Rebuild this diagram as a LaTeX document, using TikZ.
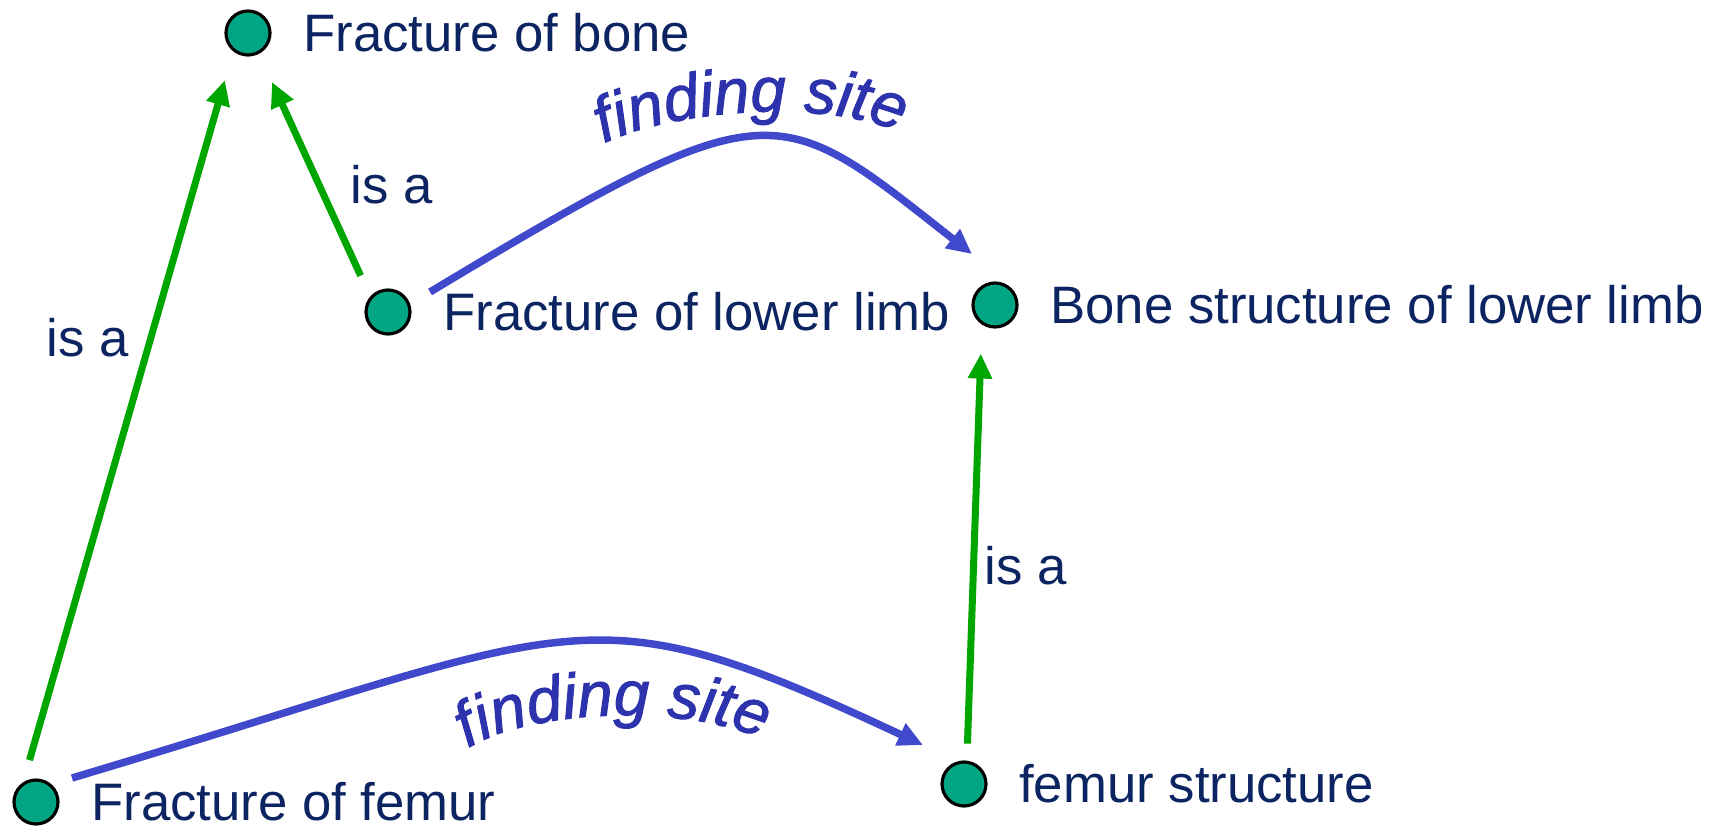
\documentclass[tikz,border=0pt]{standalone}
\usepackage{fontspec}
\setmainfont{Liberation Sans}
\newfontface\sitefontface{Liberation Sans Italic}[FakeBold=1.6]
\usetikzlibrary{positioning,arrows.meta,decorations.text}

\definecolor{conceptnavy}{HTML}{0C2461}
\definecolor{dotteal}{HTML}{00A683}
\definecolor{isagreen}{HTML}{00A600}
\definecolor{siteblue}{HTML}{4048CC}
\definecolor{sitetext}{HTML}{2C33AC}

\newcommand{\conceptfont}{\fontsize{15}{18}\selectfont}
\newcommand{\sitefont}{\fontsize{18}{21}\sitefontface}

\begin{document}
\begin{tikzpicture}[
    dot/.style={circle, draw=black, line width=0.9pt, fill=dotteal, minimum size=0.44cm, inner sep=0pt},
    concept/.style={inner sep=0pt, text=conceptnavy, font=\conceptfont},
    isalabel/.style={anchor=base, inner sep=0pt, text=conceptnavy, font=\conceptfont},
    isa/.style={draw=isagreen, line width=0.07cm, -{Triangle[length=0.25cm, width=0.23cm]}},
    findsite/.style={draw=siteblue, line width=0.075cm, -{Triangle[length=0.25cm, width=0.23cm]}},
    sitelabel/.style={decorate, decoration={text along path, text={|\sitefont|finding site}, text align=center, text color=sitetext}}
]
\useasboundingbox (0,0) rectangle (17.27,8.25);

% Draw the concepts
\node[dot] (bone) at (2.48,7.92) {};
\node[concept, right=0.31cm of bone] (bonetext) {Fracture of bone};

\node[dot] (limb) at (3.88,5.13) {};
\node[concept, right=0.31cm of limb] (limbtext) {Fracture of lower limb};

\node[dot] (bonelimb) at (9.95,5.20) {};
\node[concept, right=0.31cm of bonelimb] (bonelimbtext) {Bone structure of lower limb};

\node[dot] (femur) at (0.36,0.23) {};
\node[concept, right=0.31cm of femur] (femurtext) {Fracture of femur};

\node[dot] (femurstr) at (9.64,0.41) {};
\node[concept, right=0.31cm of femurstr] (femurstrtext) {femur structure};

% is a
\draw[isa, shorten <=0.23cm, shorten >=0.30cm] (femur.123) -- (bone.231);
\node[isalabel] (isa1) at (0.88,4.69) {is a};

\draw[isa, shorten <=0.23cm, shorten >=0.31cm] (limb.139) -- (bone.298);
\node[isalabel] (isa2) at (3.92,6.22) {is a};

\draw[isa, shorten <=0.17cm, shorten >=0.29cm] (femurstr.83) -- (bonelimb.236);
\node[isalabel] (isa3) at (10.26,2.41) {is a};

% finding site
\coordinate (limbout) at ([shift={(0.42,0.20)}]limb.center);
\coordinate (bonelimbin) at ([shift={(-0.23,0.51)}]bonelimb.center);
\draw[findsite] (limbout) .. controls (7.73,7.39) and (7.75,7.26) .. (bonelimbin);
\path[sitelabel] (5.98,6.79) .. controls (6.80,7.20) and (8.40,7.25) .. (9.05,6.90);

\coordinate (femurout) at ([shift={(0.36,0.24)}]femur.center);
\coordinate (femurstrin) at ([shift={(-0.41,0.39)}]femurstr.center);
\draw[findsite] (femurout) .. controls (5.89,2.01) and (5.79,2.41) .. (femurstrin);
\path[sitelabel] (4.62,0.73) .. controls (5.30,1.20) and (7.00,1.20) .. (7.68,0.83);

\end{tikzpicture}
\end{document}
